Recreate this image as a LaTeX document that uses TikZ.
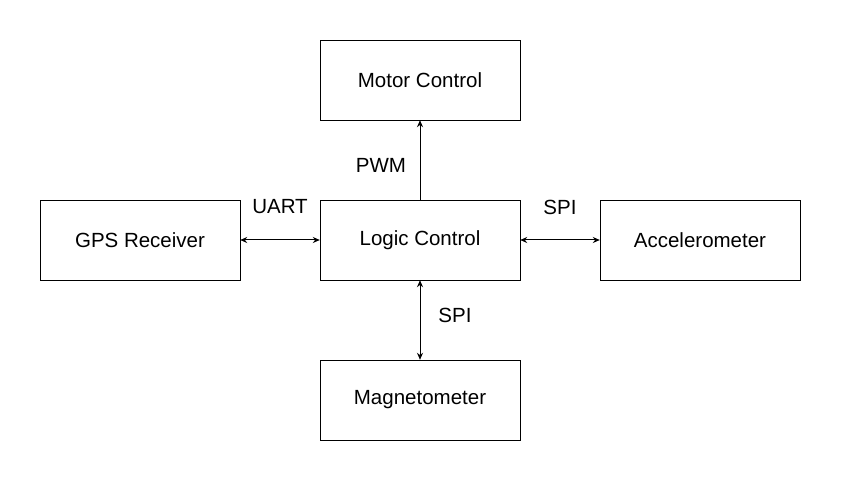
\documentclass[tikz,border=0pt]{standalone}
\usepackage{fontspec}
\setmainfont{Liberation Sans}
\usetikzlibrary{arrows.meta}

\tikzset{
	block/.style={draw,thin,minimum width=200pt,minimum height=80pt,inner sep=0pt,font=\fontsize{20.5}{24}\selectfont},
	lbl/.style={font=\fontsize{20.5}{24}\selectfont,inner sep=0pt},
	>={Stealth[length=7pt,width=6pt]}
}

\begin{document}
\begin{tikzpicture}[x=1pt,y=-1pt,line width=1pt]
		\useasboundingbox (0,0) rectangle (841,481);
		\node[block] (motor) at (420,80) {Motor Control};
		\node[block] (gps) at (140,240) {GPS Receiver};
		\node[block] (logic) at (420,240) {Logic Control};
		\node[block] (accel) at (700,240) {Accelerometer};
		\node[block] (magnet) at (420,400) {Magnetometer};
		\draw[->] (logic) -- (motor);
		\draw[<->] (gps) -- (logic);
		\draw[<->] (logic) -- (accel);
		\draw[<->] (logic) -- (magnet);
		\node[lbl] (pwm) at (381,165) {PWM};
		\node[lbl] (uart) at (280,207) {UART};
		\node[lbl] (spiA) at (560,207) {SPI};
		\node[lbl] (spiM) at (455,315) {SPI};
	\end{tikzpicture}
\end{document}
